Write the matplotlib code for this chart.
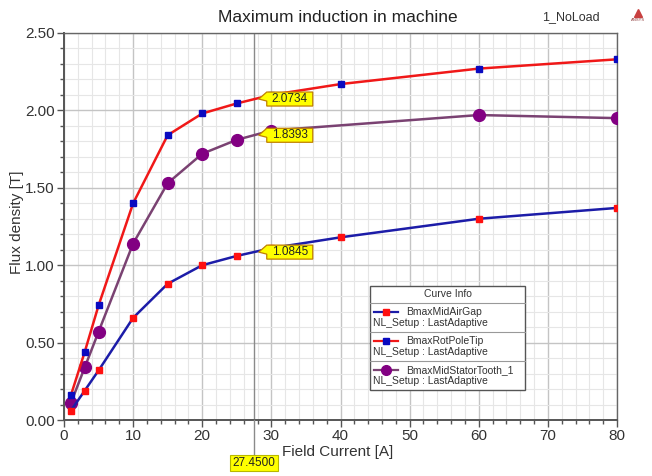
import matplotlib
matplotlib.use("Agg")
import matplotlib.pyplot as plt
import numpy as np
from matplotlib.lines import Line2D
from matplotlib.patches import Polygon, Rectangle
from matplotlib import transforms
from matplotlib.ticker import MultipleLocator, FormatStrFormatter

plt.rcParams['font.family'] = ['Liberation Sans', 'DejaVu Sans']

# Field current sweep [A]
current = [1, 3, 5, 10, 15, 20, 25, 30, 40, 60, 80]
current_tooth = [1, 3, 5, 10, 15, 20, 25, 30, 60, 80]

# Flux densities [T]
b_airgap = [0.06, 0.19, 0.32, 0.66, 0.88, 1.00, 1.06, 1.11, 1.18, 1.30, 1.37]
b_poletip = [0.16, 0.44, 0.74, 1.40, 1.84, 1.98, 2.045, 2.10, 2.17, 2.27, 2.33]
b_tooth = [0.11, 0.34, 0.57, 1.14, 1.53, 1.72, 1.81, 1.87, 1.97, 1.95]

series_names = ["BmaxMidAirGap", "BmaxRotPoleTip", "BmaxMidStatorTooth_1"]
setup_name = "NL_Setup : LastAdaptive"

cursor_x = 27.45
cursor_values = [2.0734, 1.8393, 1.0845]

W, H = 652, 476
fig = plt.figure(figsize=(W / 100, H / 100), dpi=100)
fig.patch.set_facecolor("white")


def fx(px):
    return px / W


def fy(py):
    return 1 - py / H


ax = fig.add_axes([fx(64), fy(420), fx(617) - fx(64), fy(33) - fy(420)])

styles = [
    dict(color="#1c1ca8", mfc="#ff1010", mec="#ff1010", marker="s", ms=5),
    dict(color="#f01818", mfc="#0a0ac0", mec="#0a0ac0", marker="s", ms=5),
    dict(color="#7a4272", mfc="#820082", mec="#820082", marker="o", ms=8.5),
]

ax.plot(current, b_airgap, lw=1.8, zorder=4, **styles[0])
ax.plot(current, b_poletip, lw=1.8, zorder=4, **styles[1])
ax.plot(current_tooth, b_tooth, lw=1.8, zorder=3, **styles[2])

ax.set_xlim(0, 80)
ax.set_ylim(0, 2.5)
ax.xaxis.set_major_locator(MultipleLocator(10))
ax.xaxis.set_minor_locator(MultipleLocator(2))
ax.yaxis.set_major_locator(MultipleLocator(0.5))
ax.yaxis.set_minor_locator(MultipleLocator(0.1))
ax.yaxis.set_major_formatter(FormatStrFormatter("%.2f"))
ax.grid(which="major", color="#c4c4c4", lw=1.0, zorder=0)
ax.grid(which="minor", color="#e6e6e6", lw=0.8, zorder=0)
ax.set_axisbelow(True)

for side in ["left", "bottom"]:
    ax.spines[side].set_color("#555555")
    ax.spines[side].set_linewidth(1.4)
for side in ["top", "right"]:
    ax.spines[side].set_color("#666666")
    ax.spines[side].set_linewidth(1.0)

ax.tick_params(which="major", direction="out", length=5, width=1.0,
               color="#555555", labelsize=11, labelcolor="#333333", pad=1.5)
ax.tick_params(which="minor", direction="out", length=3, width=1.0,
               color="#555555")

fig.text(fx(338), fy(17), "Maximum induction in machine", ha="center",
         va="center", fontsize=12.5, color="#222222")
fig.text(fx(338), fy(452), "Field Current [A]", ha="center", va="center",
         fontsize=11, color="#333333")
fig.text(fx(17), fy(222), "Flux density [T]", ha="center", va="center",
         rotation=90, fontsize=11, color="#333333")
fig.text(fx(571), fy(17), "1_NoLoad", ha="center", va="center",
         fontsize=9, color="#333333")

# small logo mark
fig.add_artist(Line2D([fx(638)], [fy(13)], marker="^", ms=6, color="#c84040",
                      mec="#c84040", transform=fig.transFigure))
fig.text(fx(638), fy(20), "ANSYS", ha="center", va="center", fontsize=3,
         color="#904040")

# cursor line through the plot and below the x axis
ax.axvline(cursor_x, color="#8a8a8a", lw=1.0, zorder=2)
cur_disp = ax.transData.transform((cursor_x, 0))[0]
cur_px = cur_disp / fig.dpi * 100
fig.add_artist(Line2D([fx(cur_px), fx(cur_px)], [fy(420), fy(455)],
                      color="#8a8a8a", lw=1.0, transform=fig.transFigure))
fig.text(fx(cur_px), fy(463), "%.4f" % cursor_x, ha="center", va="center",
         fontsize=8.5, color="#222222",
         bbox=dict(boxstyle="square,pad=0.2", fc="#ffff00", ec="#b8b800",
                   lw=0.8))

# value flags at the cursor
for val in cursor_values:
    trans = fig.dpi_scale_trans + transforms.ScaledTranslation(
        cursor_x, val, ax.transData)
    x0, w, h, tip = 0.05, 0.46, 0.14, 0.08
    verts = [(x0, 0.0), (x0 + tip, h / 2), (x0 + tip + w, h / 2),
             (x0 + tip + w, -h / 2), (x0 + tip, -h / 2), (x0 + tip, -0.02)]
    ax.add_patch(Polygon(verts, closed=True, transform=trans, fc="#ffff00",
                         ec="#c08000", lw=0.9, zorder=6, clip_on=False))
    ax.text(x0 + tip + w / 2, 0.0, "%.4f" % val, transform=trans,
            ha="center", va="center", fontsize=8.5, color="#222222",
            zorder=7)

# curve info box
lx0, lx1, ly0, ly1 = 370, 525, 286, 390
fig.add_artist(Rectangle((fx(lx0), fy(ly1)), fx(lx1) - fx(lx0),
                         fy(ly0) - fy(ly1), transform=fig.transFigure,
                         fc="white", ec="#555555", lw=1.0, zorder=10))
fig.text(fx((lx0 + lx1) / 2), fy(294), "Curve Info", ha="center",
         va="center", fontsize=7.5, color="#333333", zorder=11)
for sep in [303, 332, 361]:
    fig.add_artist(Line2D([fx(lx0), fx(lx1)], [fy(sep), fy(sep)],
                          color="#999999", lw=0.8, transform=fig.transFigure,
                          zorder=11))
legend_ms = [4, 4, 7]
for i, name in enumerate(series_names):
    row = 312 + 29 * i
    st = styles[i]
    fig.add_artist(Line2D([fx(374), fx(398)], [fy(row), fy(row)],
                          color=st["color"], lw=1.6,
                          transform=fig.transFigure, zorder=11))
    fig.add_artist(Line2D([fx(386)], [fy(row)], marker=st["marker"],
                          ms=legend_ms[i], mfc=st["mfc"], mec=st["mec"],
                          transform=fig.transFigure, zorder=12))
    fig.text(fx(406), fy(row), name, ha="left", va="center", fontsize=7.5,
             color="#333333", zorder=12)
    fig.text(fx(373), fy(row + 11), setup_name, ha="left", va="center",
             fontsize=7.5, color="#333333", zorder=12)

fig.savefig("out.png", dpi=100, facecolor="white")
